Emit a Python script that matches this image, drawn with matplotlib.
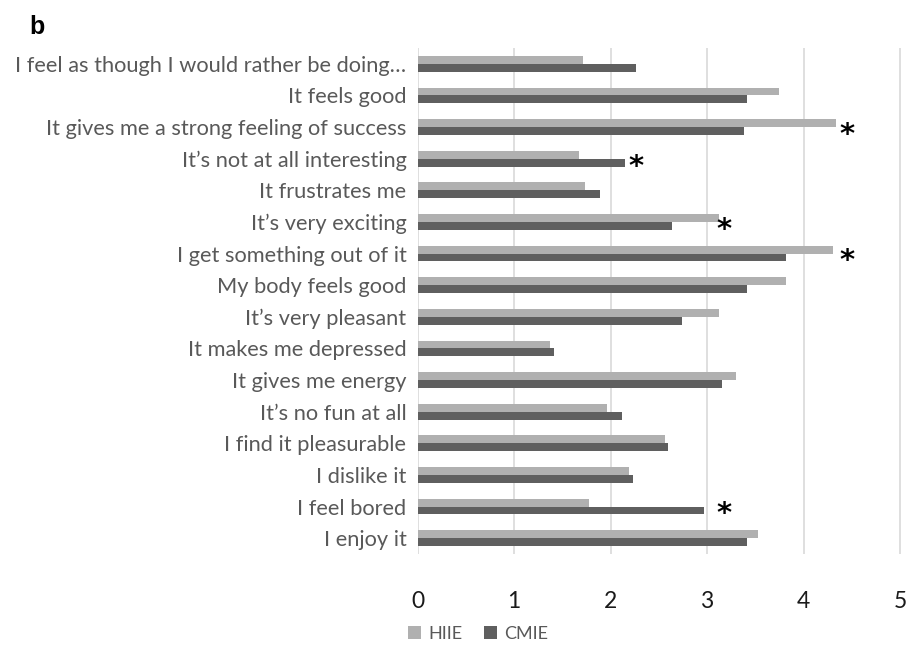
import matplotlib
matplotlib.use("Agg")
import matplotlib.pyplot as plt
import numpy as np

categories = [
    "I feel as though I would rather be doing\u2026",
    "It feels good",
    "It gives me a strong feeling of success",
    "It\u2019s not at all interesting",
    "It frustrates me",
    "It\u2019s very exciting",
    "I get something out of it",
    "My body feels good",
    "It\u2019s very pleasant",
    "It makes me depressed",
    "It gives me energy",
    "It\u2019s no fun at all",
    "I find it pleasurable",
    "I dislike it",
    "I feel bored",
    "I enjoy it",
]
hiie = [1.71, 3.75, 4.34, 1.67, 1.74, 3.12, 4.30, 3.82, 3.12, 1.37, 3.30, 1.96, 2.56, 2.19, 1.78, 3.53]
cmie = [2.26, 3.41, 3.38, 2.15, 1.89, 2.64, 3.82, 3.41, 2.74, 1.41, 3.15, 2.12, 2.60, 2.23, 2.97, 3.41]
star_rows = [2, 3, 5, 6, 14]
star_x = [4.45, 2.26, 3.18, 4.45, 3.18]
xticks = [0, 1, 2, 3, 4, 5]

plt.rcParams['font.family'] = ['Lato', 'DejaVu Sans']

fig = plt.figure(figsize=(9.09, 6.48), dpi=100)
ax = fig.add_axes([417.5/909, 1-554/648, (902-417.5)/909, (554-48)/648])

n = len(categories)
y = np.arange(n)
h = 0.25
ax.barh(y - h/2, hiie, height=h, color='#b0b0b0', label='HIIE', zorder=3)
ax.barh(y + h/2, cmie, height=h, color='#5f5f5f', label='CMIE', zorder=3)

for r, sx in zip(star_rows, star_x):
    ax.text(sx, r + 0.25, '*', ha='center', va='center', fontsize=21, color='black',
            family='DejaVu Sans', fontweight='bold', zorder=4)

ax.set_xlim(0, 5.02)
ax.set_ylim(n - 0.5, -0.5)
ax.set_xticks(xticks)
ax.set_xticklabels([str(t) for t in xticks])
ax.set_yticks(y)
ax.set_yticklabels(categories)
for s in ax.spines.values():
    s.set_visible(False)
ax.grid(axis='x', color='#d9d9d9', linewidth=1.2, zorder=0)
ax.tick_params(axis='x', length=0, pad=27, labelsize=16.5, labelcolor='#1a1a1a')
ax.tick_params(axis='y', length=0, pad=8, labelsize=15.7, labelcolor='#595959')

fig.text(0.032, 0.958, 'b', fontsize=18, fontweight='bold', family='Liberation Sans', va='center')

fig.legend(loc='center', bbox_to_anchor=(0.526, 0.022), ncol=2, frameon=False,
           fontsize=13, labelcolor='#595959', handlelength=0.7, handleheight=0.7,
           handletextpad=0.4, columnspacing=1.2)

fig.savefig('out.png', dpi=100)
